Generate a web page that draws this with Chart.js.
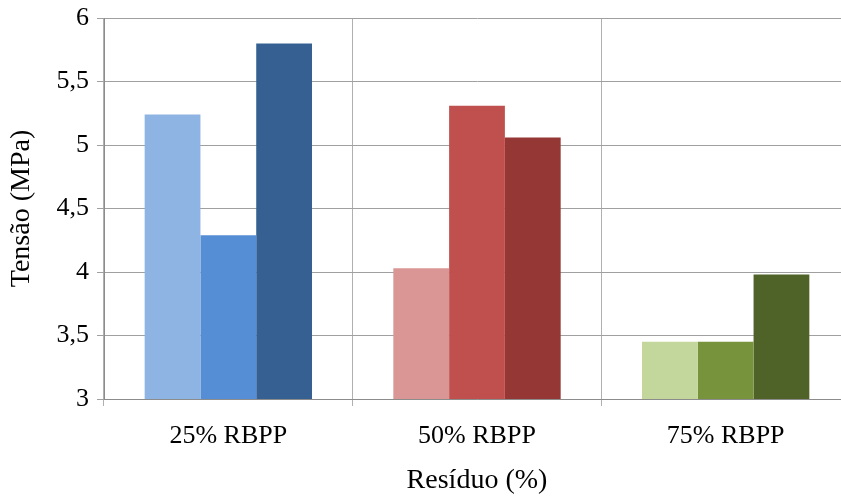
<!DOCTYPE html>
<html>
<head>
<meta charset="utf-8">
<script src="https://cdn.jsdelivr.net/npm/chart.js@4"></script>
<style>
  html, body { margin: 0; padding: 0; background: #fff; overflow: hidden; }
  #wrap { width: 850px; height: 497px; }
</style>
</head>
<body>
<div id="wrap"><canvas id="tensaoChart"></canvas></div>
<script>
var categories = ["25% RBPP", "50% RBPP", "75% RBPP"];
var bar1 = [5.24, 4.03, 3.45];
var bar2 = [4.29, 5.31, 3.45];
var bar3 = [5.80, 5.06, 3.98];
var colors1 = ["#8EB4E3", "#D99694", "#C3D69B"];
var colors2 = ["#558ED5", "#C0504D", "#77933C"];
var colors3 = ["#366092", "#953735", "#4F6228"];

var serif = "'Liberation Serif', 'Times New Roman', serif";

new Chart("tensaoChart", {
    type: "bar",
    data: {
        labels: categories,
        datasets: [
            { data: bar1, backgroundColor: colors1 },
            { data: bar2, backgroundColor: colors2 },
            { data: bar3, backgroundColor: colors3 }
        ]
    },
    options: {
        responsive: true,
        maintainAspectRatio: false,
        animation: false,
        layout: { padding: { top: 18, left: 0, right: 0, bottom: 0 } },
        datasets: {
            bar: { categoryPercentage: 0.673, barPercentage: 1.0 }
        },
        plugins: {
            legend: { display: false },
            tooltip: { enabled: false }
        },
        scales: {
            x: {
                grid: { color: "#b0b0b0", tickLength: 7, offset: true },
                border: { color: "#8c8c8c" },
                ticks: {
                    color: "#000",
                    font: { family: serif, size: 26 },
                    padding: 15
                },
                title: {
                    display: true,
                    text: "Resíduo (%)",
                    color: "#000",
                    font: { family: serif, size: 28 },
                    padding: { top: 4, bottom: 0 }
                },
                afterFit: function (scale) { scale.height = 98; }
            },
            y: {
                min: 3,
                max: 6,
                grid: { color: "#a0a0a0", tickLength: 7 },
                border: { color: "#8c8c8c" },
                ticks: {
                    stepSize: 0.5,
                    color: "#000",
                    font: { family: serif, size: 26 },
                    padding: 8,
                    callback: function (v) { return String(v).replace(".", ","); }
                },
                title: {
                    display: true,
                    text: "Tensão (MPa)",
                    color: "#000",
                    font: { family: serif, size: 28 },
                    padding: { top: 5, bottom: 4 }
                },
                afterFit: function (scale) {
                    scale.width = 104;
                    scale.paddingTop = 0;
                    scale.paddingBottom = 0;
                }
            }
        }
    }
});
</script>
</body>
</html>
